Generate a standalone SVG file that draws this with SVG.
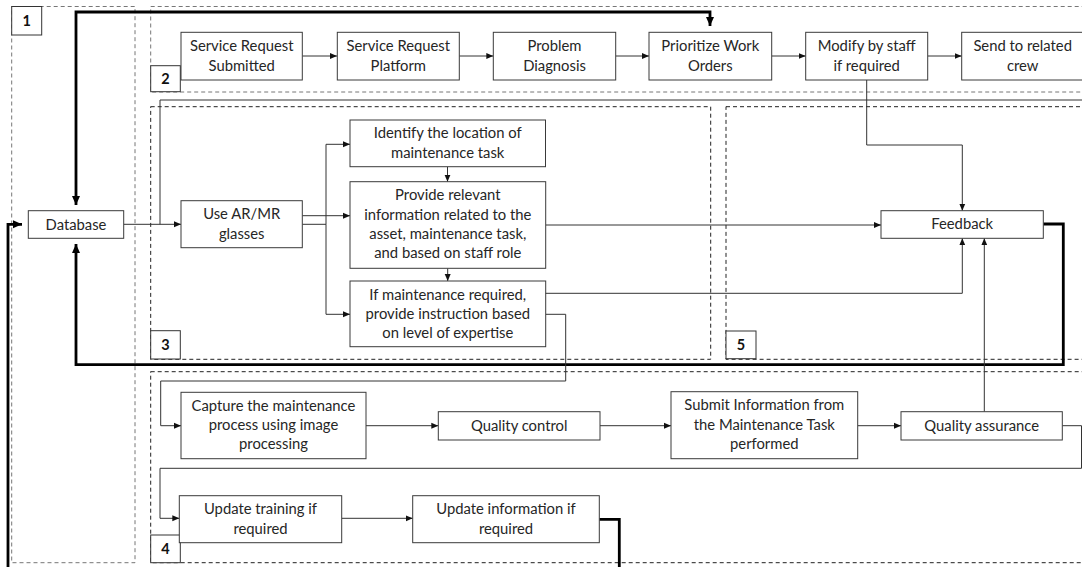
<svg xmlns="http://www.w3.org/2000/svg" width="1082" height="567" viewBox="0 0 1082 567">
<style>
.bg{fill:#ffffff}
.reg{fill:none;stroke:#222;stroke-width:1;stroke-dasharray:4 3}
.regg{fill:none;stroke:#777;stroke-width:1;stroke-dasharray:4 3}
.lbl rect{fill:#fff;stroke:#333;stroke-width:1}
.lbl text{font-family:Lato,"Liberation Sans",sans-serif;font-size:14.5px;font-weight:bold;fill:#111;text-anchor:middle}
.node rect{fill:#fff;stroke:#3a3a3a;stroke-width:1}
.node text{font-family:Lato,"Liberation Sans",sans-serif;font-size:14.8px;fill:#262626;text-anchor:middle}
.ln{fill:none;stroke:#333;stroke-width:1}
.thk{fill:none;stroke:#000;stroke-width:2.8}
</style>
<defs>
<marker id="a" markerUnits="userSpaceOnUse" markerWidth="8" markerHeight="8" refX="7" refY="4" orient="auto">
<path d="M0,1 L7,4 L0,7 Z" fill="#111"/>
</marker>
<marker id="b" markerUnits="userSpaceOnUse" markerWidth="10" markerHeight="10" refX="9" refY="5" orient="auto">
<path d="M0,1 L9,5 L0,9 Z" fill="#000"/>
</marker>
<marker id="bs" markerUnits="userSpaceOnUse" markerWidth="10" markerHeight="10" refX="0" refY="5" orient="auto">
<path d="M9,1 L0,5 L9,9 Z" fill="#000"/>
</marker>
</defs>
<rect class="bg" x="0" y="0" width="1082" height="567"/>

<g id="regions">
<rect class="regg" x="11.7" y="6.5" width="123.3" height="556.2"/>
<rect class="regg" x="150.7" y="6.5" width="940" height="85.5"/>
<rect class="reg" x="150.7" y="106.7" width="560" height="252.6"/>
<rect class="reg" x="726" y="106.7" width="400" height="252.6"/>
<rect class="reg" x="150.7" y="371.7" width="940" height="191"/>
</g>

<g id="connectors">
<path class="thk" d="M76,205 V12 H710 V26" marker-end="url(#b)" marker-start="url(#bs)"/>
<path class="thk" d="M1043.3,224 H1063.3 V364.7 H76 V244" marker-end="url(#b)"/>
<path class="thk" d="M8,567 V224.3 H22" marker-end="url(#b)"/>
<path class="thk" d="M599.3,519.3 H619.3 V567"/>
<path class="ln" d="M302.3,56 H337" marker-end="url(#a)"/>
<path class="ln" d="M459.3,56 H493.3" marker-end="url(#a)"/>
<path class="ln" d="M615.7,56 H649" marker-end="url(#a)"/>
<path class="ln" d="M771.7,56 H805.7" marker-end="url(#a)"/>
<path class="ln" d="M927.7,56 H961.7" marker-end="url(#a)"/>
<path class="ln" d="M866.7,80 V145 H962.3 V210.7" marker-end="url(#a)"/>
<path class="ln" d="M123.7,224.3 H181" marker-end="url(#a)"/>
<path class="ln" d="M160,224.3 V100 H1082"/>
<path class="ln" d="M302.3,215.7 H350" marker-end="url(#a)"/>
<path class="ln" d="M302.3,224.3 H326"/>
<path class="ln" d="M326,224.3 V144.3 H350" marker-end="url(#a)"/>
<path class="ln" d="M326,224.3 V314.3 H350" marker-end="url(#a)"/>
<path class="ln" d="M447.5,166.7 V181.7" marker-end="url(#a)"/>
<path class="ln" d="M447.7,268.3 V281" marker-end="url(#a)"/>
<path class="ln" d="M545.7,225 H881" marker-end="url(#a)"/>
<path class="ln" d="M538,293.3 H962.3 V238.3" marker-end="url(#a)"/>
<path class="ln" d="M545.7,314.3 H565.7 V381 H160.7 V425.7 H181" marker-end="url(#a)"/>
<path class="ln" d="M366,425.7 H438.3" marker-end="url(#a)"/>
<path class="ln" d="M600,425.7 H671" marker-end="url(#a)"/>
<path class="ln" d="M857.7,425.7 H901" marker-end="url(#a)"/>
<path class="ln" d="M984.3,411.7 V238.3" marker-end="url(#a)"/>
<path class="ln" d="M1062.3,425.7 H1081.5 V468.3 H160 V518.3 H179.3" marker-end="url(#a)"/>
<path class="ln" d="M341.7,518.3 H412.7" marker-end="url(#a)"/>
</g>

<g id="label1" class="lbl"><rect x="11.7" y="6.5" width="30" height="28.5"/><text x="26.7" y="26">1</text></g>
<g id="label2" class="lbl"><rect x="150.7" y="65.7" width="29.6" height="26"/><text x="165.5" y="84">2</text></g>
<g id="label3" class="lbl"><rect x="150.7" y="330.7" width="29.6" height="28.3"/><text x="165.5" y="350">3</text></g>
<g id="label5" class="lbl"><rect x="726" y="331" width="30" height="27.7"/><text x="741" y="350">5</text></g>
<g id="label4" class="lbl"><rect x="150.7" y="535" width="29.6" height="27.7"/><text x="165.5" y="554">4</text></g>

<g id="srs" class="node"><rect x="181" y="32.3" width="121.3" height="47.7"/><text x="241.7" y="51">Service Request</text><text x="241.7" y="70.5">Submitted</text></g>
<g id="srp" class="node"><rect x="337.3" y="32.3" width="122" height="47.7"/><text x="398.3" y="51">Service Request</text><text x="398.3" y="70.5">Platform</text></g>
<g id="pd" class="node"><rect x="493.3" y="32.3" width="122.4" height="47.7"/><text x="554.5" y="51">Problem</text><text x="554.5" y="70.5">Diagnosis</text></g>
<g id="pwo" class="node"><rect x="649" y="32.3" width="122.7" height="47.7"/><text x="710.3" y="51">Prioritize Work</text><text x="710.3" y="70.5">Orders</text></g>
<g id="mod" class="node"><rect x="805.7" y="32.3" width="122" height="47.7"/><text x="866.7" y="51">Modify by staff</text><text x="866.7" y="70.5">if required</text></g>
<g id="send" class="node"><rect x="961.7" y="32.3" width="122" height="47.7"/><text x="1022.7" y="51">Send to related</text><text x="1022.7" y="70.5">crew</text></g>

<g id="db" class="node"><rect x="28.3" y="210.7" width="95.4" height="27.6"/><text x="76" y="229.5">Database</text></g>
<g id="ar" class="node"><rect x="181" y="200.7" width="121.3" height="47"/><text x="241.7" y="219.3">Use AR/MR</text><text x="241.7" y="238.5">glasses</text></g>
<g id="loc" class="node"><rect x="350" y="120" width="195.5" height="46.7"/><text x="447.7" y="138.3">Identify the location of</text><text x="447.7" y="157.7">maintenance task</text></g>
<g id="info" class="node"><rect x="350" y="181.7" width="195.7" height="86.6"/><text x="447.8" y="200">Provide relevant</text><text x="447.8" y="220">information related to the</text><text x="447.8" y="239">asset, maintenance task,</text><text x="447.8" y="258.3">and based on staff role</text></g>
<g id="instr" class="node"><rect x="350" y="281" width="195.7" height="65.7"/><text x="447.8" y="300">If maintenance required,</text><text x="447.8" y="319.3">provide instruction based</text><text x="447.8" y="338.3">on level of expertise</text></g>
<g id="fb" class="node"><rect x="881" y="210.7" width="162.3" height="27.6"/><text x="962.2" y="229.3">Feedback</text></g>

<g id="cap" class="node"><rect x="181" y="392.3" width="185" height="66.4"/><text x="273.5" y="411">Capture the maintenance</text><text x="273.5" y="430.3">process using image</text><text x="273.5" y="449">processing</text></g>
<g id="qc" class="node"><rect x="438.3" y="411.7" width="161.7" height="28.3"/><text x="519.2" y="430.7">Quality control</text></g>
<g id="sub" class="node"><rect x="671" y="391.7" width="186.7" height="67"/><text x="764.3" y="410.3">Submit Information from</text><text x="764.3" y="429.5">the Maintenance Task</text><text x="764.3" y="449">performed</text></g>
<g id="qa" class="node"><rect x="901" y="411.7" width="161.3" height="28.3"/><text x="981.7" y="430.7">Quality assurance</text></g>
<g id="ut" class="node"><rect x="179.3" y="495.7" width="162.4" height="47"/><text x="260.5" y="514.3">Update training if</text><text x="260.5" y="533.7">required</text></g>
<g id="ui" class="node"><rect x="412.7" y="495.7" width="186.6" height="47"/><text x="506" y="514.3">Update information if</text><text x="506" y="533.7">required</text></g>
</svg>
